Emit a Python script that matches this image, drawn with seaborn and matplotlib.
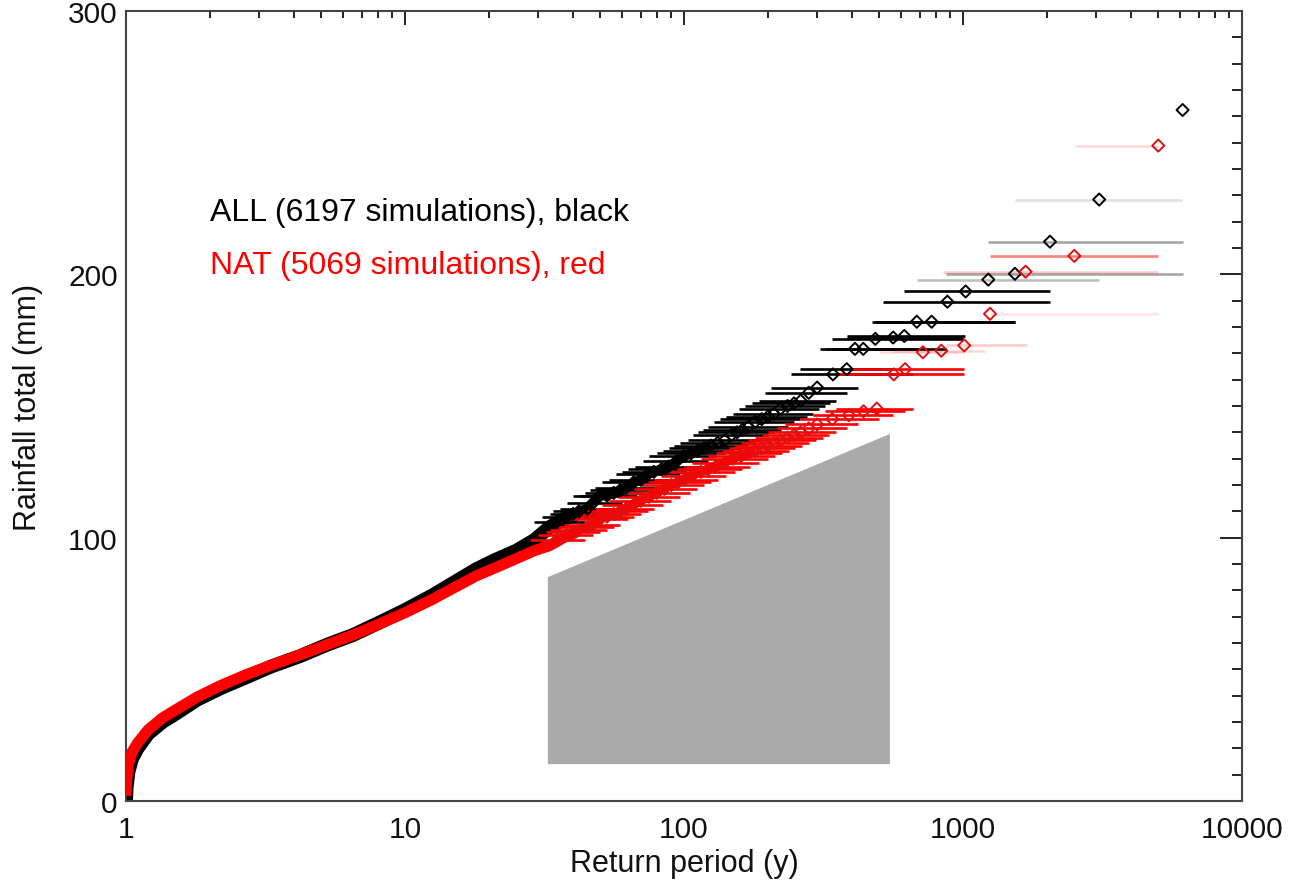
import numpy as np
import pandas as pd
import matplotlib
matplotlib.use("Agg")
import matplotlib.pyplot as plt
from matplotlib.ticker import FixedLocator, LogLocator, MultipleLocator, NullFormatter
import seaborn as sns

# ---------------- data ----------------
# dense part of the return-period curves (thousands of overlapping points)
all_curve_rp = [1.0, 1.005, 1.02, 1.05, 1.1, 1.2, 1.35, 1.5, 1.8, 2.2, 2.7, 3.3, 4.2, 5.3,
                6.5, 8.0, 10, 12.5, 15, 18, 21, 25, 29, 33, 37, 41]
all_curve_val = [0, 5, 11, 16, 20, 25.5, 30, 33, 38.5, 43, 47, 51, 55, 59.5,
                 63, 67.5, 72.5, 78, 83, 88, 91.5, 95, 99, 104, 107, 109]
nat_curve_rp = [1.0, 1.005, 1.02, 1.05, 1.1, 1.2, 1.35, 1.5, 1.8, 2.2, 2.7, 3.3, 4.2, 5.3,
                6.5, 8.0, 10, 12.5, 15, 18, 21, 25, 29, 33, 37, 41]
nat_curve_val = [2, 8, 14, 18.5, 22, 27, 31.5, 34.5, 39.5, 44, 48, 51.5, 55.5, 59.5,
                 63, 67, 71.5, 76.5, 81, 85.5, 88.5, 92, 95, 97, 100, 102]

# sparse part: individual events with return-period uncertainty ranges
all_rp = [35, 38, 40, 42, 45, 47, 50, 53, 56, 59, 62, 66, 70, 74, 78, 83, 88, 94, 100, 106,
          112, 118, 125, 132, 140, 148, 155, 162, 170, 180, 190, 200, 210, 222, 235, 248, 262,
          280, 300, 342, 383, 410, 439, 485, 562, 616, 683, 772, 879, 1022, 1232, 1535, 2050,
          3077, 6125]
all_val = [106, 108, 109, 110, 111, 113, 116, 116, 117, 118, 119, 121, 122, 124, 125, 126,
           127, 129, 131, 132, 133, 134, 135, 136, 137, 139, 140, 141, 142, 144, 145, 146,
           147, 149, 150, 151, 152, 155, 157, 162, 164, 171.7, 171.7, 175.5, 176, 176.6, 182,
           182, 189.6, 193.5, 198, 200.2, 212.4, 228.4, 262.4]
all_lo = [29, 31, 33, 34, 36, 38, 40, 42, 44, 46, 48, 51, 54, 57, 60, 63, 67, 71, 75, 80,
          84, 88, 92, 97, 103, 108, 112, 117, 122, 128, 135, 142, 150, 157, 165, 175, 185,
          195, 205, 242, 260, 307, 323, 340, 383, 383, 470, 480, 515, 616, 683, 870, 1232,
          1535, 6125]
all_hi = [44, 48, 50, 53, 57, 60, 63, 68, 72, 76, 80, 86, 92, 97, 102, 108, 115, 122, 130,
          140, 150, 160, 170, 180, 190, 200, 210, 222, 235, 248, 260, 275, 290, 305, 320, 335,
          350, 385, 420, 662, 560, 683, 870, 1000, 1000, 1020, 1535, 1535, 2050, 2050, 3060,
          6150, 6150, 6100, 6125]

nat_rp = [35, 38, 40, 42, 45, 47, 50, 53, 56, 59, 62, 66, 70, 75, 80, 85, 90, 95, 100, 107,
          115, 122, 130, 140, 150, 160, 170, 180, 190, 200, 210, 222, 235, 248, 262, 280, 300,
          340, 390, 440, 491, 565, 620, 718, 836, 1010, 1250, 1676, 2506, 5010]
nat_val = [99, 101, 102, 103, 104, 105, 107, 108, 109, 110, 111, 112.5, 114, 115.5, 117,
           118.5, 120, 121, 122, 123.5, 125, 126, 127, 128.5, 130, 131, 132, 133, 134, 135,
           136, 137, 138, 139, 140, 141.5, 143, 145, 146.5, 148, 149, 162, 164, 170.4, 171,
           173, 185, 201, 207, 248.9]
nat_lo = [28, 30, 32, 33, 35, 37, 39, 41, 43, 45, 48, 51, 54, 58, 62, 66, 70, 74, 78, 83,
          88, 94, 100, 107, 115, 122, 130, 137, 145, 152, 160, 170, 180, 190, 200, 215, 230,
          260, 290, 320, 350, 360, 400, 500, 560, 870, 1250, 850, 1250, 2510]
nat_hi = [44, 47, 50, 53, 56, 59, 63, 66, 70, 74, 78, 84, 90, 97, 105, 111, 118, 125, 132,
          142, 152, 162, 172, 186, 200, 212, 225, 238, 250, 265, 280, 298, 315, 332, 350, 385,
          420, 500, 560, 620, 660, 1010, 1010, 1010, 1200, 1690, 5010, 5010, 5010, 5010]

# masked (grey) region
shade_rp = [32.5, 32.5, 547, 547]
shade_val = [14, 85, 139.4, 14]

x_ticks = [1, 10, 100, 1000, 10000]
x_ticklabels = ["1", "10", "100", "1000", "10000"]
y_ticks = [0, 100, 200, 300]
y_ticklabels = ["0", "100", "200", "300"]

label_all = "ALL (6197 simulations), black"
label_nat = "NAT (5069 simulations), red"

# bar intensity (style) for the sparse points
all_bar_alpha = [1.0] * 50 + [0.25, 0.35, 0.35, 0.12, 0.0]
nat_bar_alpha = [1.0] * 43 + [0.15, 0.15, 0.2, 0.1, 0.2, 0.5, 0.15]

# ---------------- plot ----------------
sns.set_theme(style="white")
plt.rcParams["font.family"] = ["Liberation Sans", "DejaVu Sans"]

fig = plt.figure(figsize=(12.91, 8.87), dpi=100)
ax = fig.add_axes([126 / 1291, 1 - 802 / 887, (1242 - 126) / 1291, (802 - 12) / 887])

df_all_curve = pd.DataFrame({"rp": all_curve_rp, "val": all_curve_val})
df_nat_curve = pd.DataFrame({"rp": nat_curve_rp, "val": nat_curve_val})
df_all = pd.DataFrame({"rp": all_rp, "val": all_val, "lo": all_lo, "hi": all_hi})
df_nat = pd.DataFrame({"rp": nat_rp, "val": nat_val, "lo": nat_lo, "hi": nat_hi})

# uncertainty bars
for (_, r), a in zip(df_all.iterrows(), all_bar_alpha):
    if a > 0:
        ax.hlines(r["val"], r["lo"], r["hi"], color="black", alpha=a, lw=1.9, zorder=2)
for (_, r), a in zip(df_nat.iterrows(), nat_bar_alpha):
    if a > 0:
        ax.hlines(r["val"], r["lo"], r["hi"], color="red", alpha=a, lw=1.9, zorder=3)

# dense curves (overlapping symbols form a solid band)
sns.lineplot(data=df_all_curve, x="rp", y="val", ax=ax, color="black", lw=10,
             solid_capstyle="butt", sort=False, zorder=2)
sns.lineplot(data=df_all[df_all["rp"] <= 130], x="rp", y="val", ax=ax, color="black",
             lw=7, solid_capstyle="butt", sort=False, zorder=2)
sns.lineplot(data=df_nat_curve, x="rp", y="val", ax=ax, color="red", lw=8,
             solid_capstyle="butt", sort=False, zorder=3)
sns.lineplot(data=df_nat[df_nat["rp"] <= 180], x="rp", y="val", ax=ax, color="red",
             lw=6, solid_capstyle="butt", sort=False, zorder=3)

# diamonds
sns.scatterplot(data=df_all, x="rp", y="val", ax=ax, marker="D", s=38,
                facecolor="none", edgecolor="black", linewidth=1.4, zorder=4)
sns.scatterplot(data=df_nat, x="rp", y="val", ax=ax, marker="D", s=38,
                facecolor="none", edgecolor="#e01010", linewidth=1.4, zorder=4)

# grey mask
ax.fill(shade_rp, shade_val, color="#aaaaaa", lw=0, zorder=6)

ax.set_xscale("log")
ax.set_xlim(1, 10000)
ax.set_ylim(0, 300)

ax.xaxis.set_major_locator(FixedLocator(x_ticks))
ax.set_xticklabels(x_ticklabels)
ax.xaxis.set_minor_locator(LogLocator(base=10, subs=np.arange(2, 10), numticks=20))
ax.xaxis.set_minor_formatter(NullFormatter())
ax.yaxis.set_major_locator(FixedLocator(y_ticks))
ax.set_yticklabels(y_ticklabels)
ax.yaxis.set_minor_locator(MultipleLocator(10))

ax.tick_params(axis="both", which="both", direction="in", top=True, right=True,
               color="#222222", labelsize=21.5, labelcolor="#111111")
ax.tick_params(axis="x", which="major", length=10, width=1.4, pad=10)
ax.tick_params(axis="x", which="minor", length=5, width=1.4)
ax.tick_params(axis="y", which="major", length=16, width=1.4, pad=6)
ax.tick_params(axis="y", which="minor", length=7.5, width=1.4)

for s in ax.spines.values():
    s.set_visible(True)
    s.set_color("#444444")
    s.set_linewidth(1.5)

ax.set_xlabel("Return period (y)", fontsize=22, color="#111111", labelpad=4)
ax.set_ylabel("Rainfall total (mm)", fontsize=22, color="#111111", labelpad=18)

ax.text(0.0753, 0.7456, label_all, transform=ax.transAxes, fontsize=23,
        color="black", va="center", ha="left")
ax.text(0.0753, 0.678, label_nat, transform=ax.transAxes, fontsize=23,
        color="red", va="center", ha="left")

fig.savefig("out.png", dpi=100)
